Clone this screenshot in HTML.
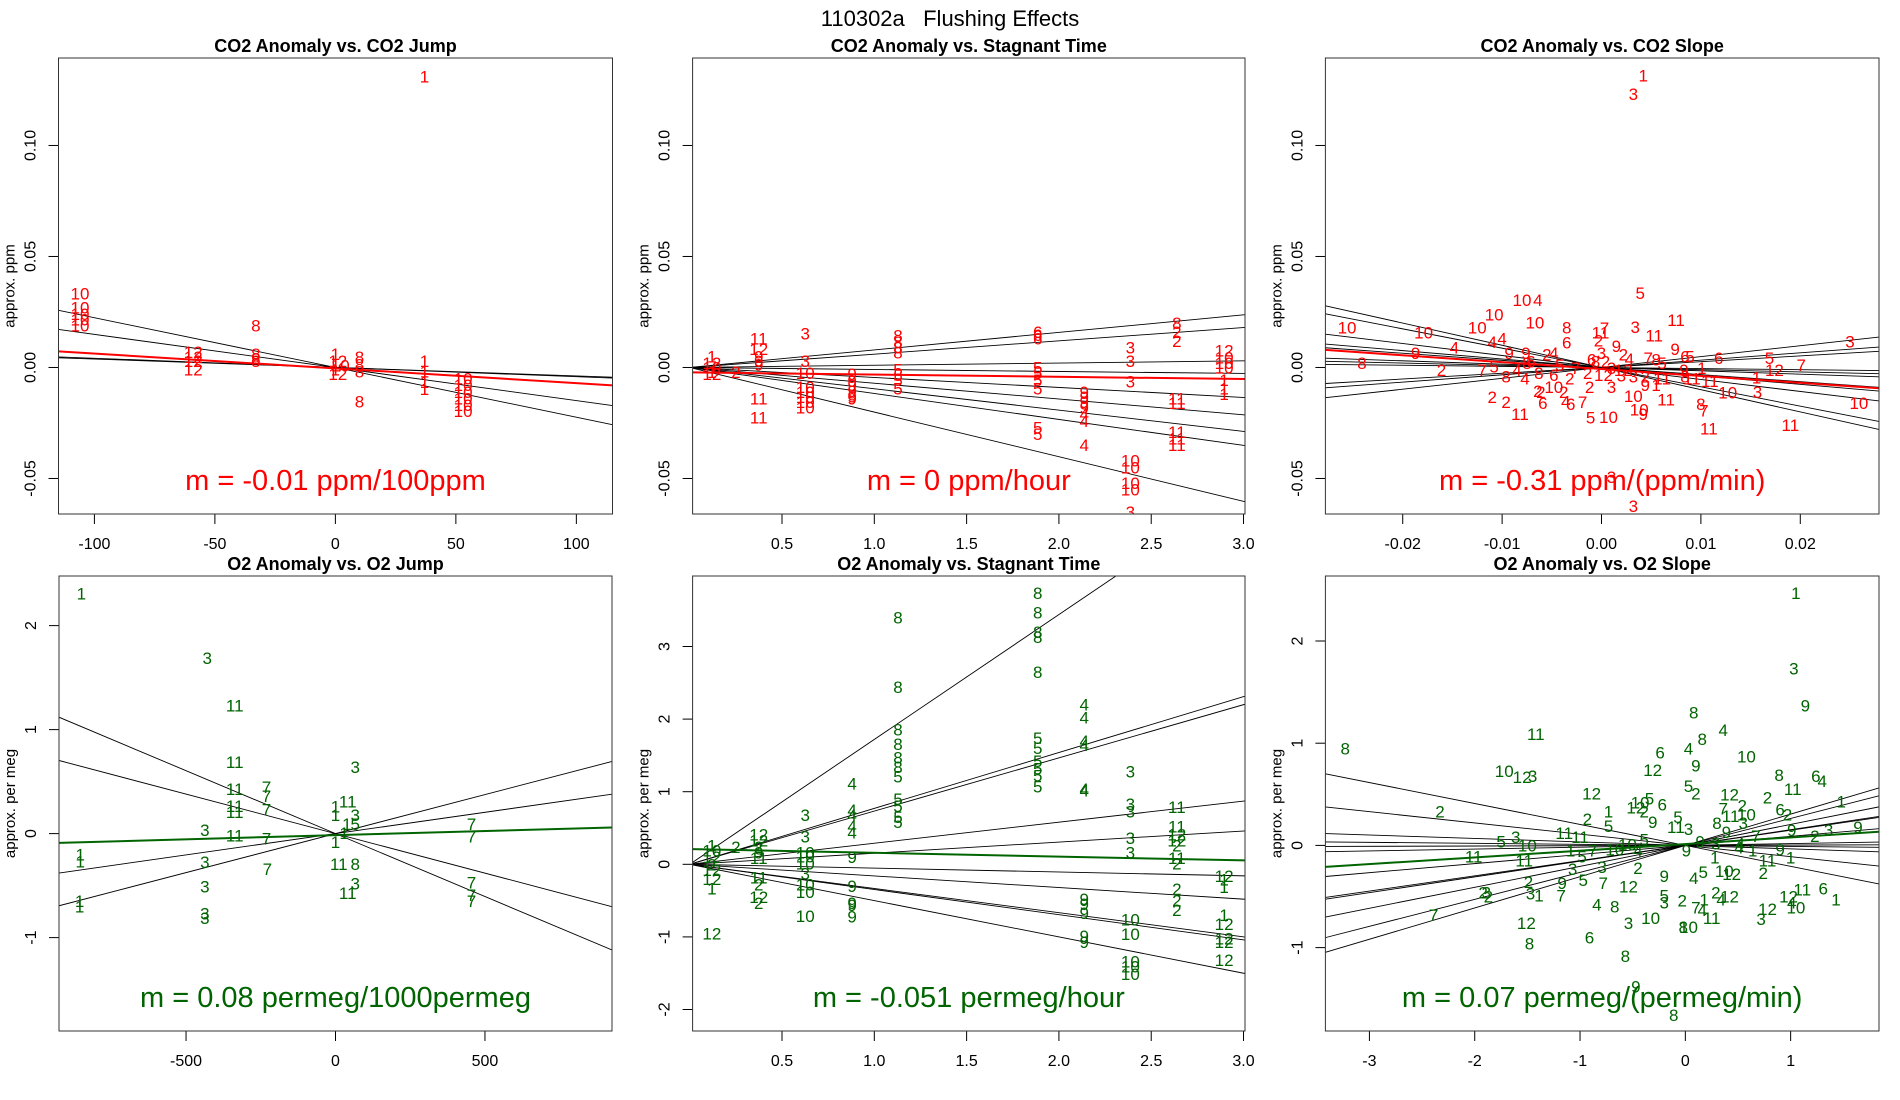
<!DOCTYPE html>
<html><head><meta charset="utf-8"><style>
html,body{margin:0;padding:0;background:#fff;}
svg{display:block;font-family:"Liberation Sans",sans-serif;}
</style></head><body>
<svg id="fig" width="1900" height="1100" viewBox="0 0 1900 1100" xmlns="http://www.w3.org/2000/svg">
<text x="950" y="26" text-anchor="middle" font-size="22">110302a&#160;&#160;&#160;Flushing Effects</text>
</svg>
<script>
// ---------- Panel 1: CO2 Anomaly vs CO2 Jump ----------
const p1Labels = ["1","10","10","10","10","10","12","12","12","12","8","8","8","8","1","12","10","1","12","8","8","8","8","1","1","1","1","10","10","10","10","10","10"];
const p1X = [37,-106,-106,-106,-106,-106,-59,-59,-59,-59,-33,-33,-33,-33,0,1,2,0,1,10,10,10,10,37,37,37,37,53,53,53,53,53,53];
const p1Y = [0.131,0.0333,0.027,0.024,0.0215,0.019,0.007,0.0047,0.003,-0.001,0.019,0.006,0.004,0.003,0.006,0.003,0.001,-0.001,-0.003,0.0047,0.0014,-0.0018,-0.0154,0.003,-0.0018,-0.0066,-0.0098,-0.005,-0.008,-0.011,-0.014,-0.017,-0.0195];
const p1Slopes = [-0.000224,-0.000149,-0.0000415,-0.000038];
const p1Fit = [-0.0004,-0.0000665];

// ---------- Panel 2: CO2 Anomaly vs Stagnant Time ----------
const p2Labels = ["1","12","10","1","12","2","11","12","9","9","9","11","11","3","3","10","10","10","10","10","10","9","9","9","9","9","9","8","8","8","8","5","5","5","5","6","6","6","5","5","5","5","5","5","9","9","9","9","4","4","4","3","3","3","10","10","10","10","3","8","2","2","11","11","11","11","11","12","10","10","10","1","1","1"];
const p2X = [0.12,0.12,0.12,0.12,0.12,0.25,0.374,0.374,0.374,0.374,0.374,0.374,0.374,0.626,0.626,0.626,0.626,0.626,0.626,0.626,0.626,0.88,0.88,0.88,0.88,0.88,0.88,1.128,1.128,1.128,1.128,1.128,1.128,1.128,1.128,1.885,1.885,1.885,1.885,1.885,1.885,1.885,1.885,1.885,2.137,2.137,2.137,2.137,2.137,2.137,2.137,2.387,2.387,2.387,2.387,2.387,2.387,2.387,2.387,2.639,2.639,2.639,2.639,2.639,2.639,2.639,2.639,2.895,2.895,2.895,2.895,2.895,2.895,2.895];
const p2Y = [0.005,0.002,0,-0.002,-0.003,-0.002,0.013,0.0084,0.005,0.003,0.0014,-0.014,-0.0226,0.0153,0.003,-0.0025,-0.0087,-0.011,-0.0133,-0.0156,-0.018,-0.003,-0.006,-0.008,-0.0105,-0.013,-0.014,0.0145,0.0115,0.009,0.0068,-0.001,-0.0033,-0.0056,-0.0094,0.016,0.0146,0.013,0,-0.0025,-0.0056,-0.0094,-0.027,-0.03,-0.011,-0.0133,-0.0156,-0.018,-0.021,-0.024,-0.035,0.009,0.003,-0.0063,-0.042,-0.045,-0.052,-0.055,-0.065,0.02,0.016,0.012,-0.014,-0.016,-0.029,-0.032,-0.035,0.0076,0.0045,0.002,0,-0.0056,-0.0094,-0.012];
const p2Slopes = [0.0079,0.006,0.001,-0.0009,-0.0045,-0.0071,-0.0096,-0.0117,-0.0201];
const p2Fit = [-0.0022,-0.001];

// ---------- Panel 3: CO2 Anomaly vs CO2 Slope ----------
const p3Labels = ["1","3","5","10","4","10","10","10","10","8","11","3","7","11","11","10","4","4","6","2","9","4","9","9","9","6","5","3","6","5","7","12","8","2","7","5","8","4","9","2","4","3","2","4","7","8","5","1","1","3","11","10","10","11","11","8","7","11","10","10","9","5","10","7","6","4","2","10","2","2","6","2","2","11","2","3","9","1","3","3","8","6","2","2","12","3","3","2","11","8","11","4","8","6","5","7","6","8","2","3","12","9"];
const p3X = [0.0042,0.0032,0.0039,-0.0080,-0.0064,-0.0108,-0.0067,-0.0256,-0.0125,-0.0035,0.0075,0.0034,0.0003,-0.0001,0.0053,-0.0179,-0.0100,-0.0110,-0.0035,-0.0003,-0.0187,-0.0148,-0.0093,0.0015,0.0074,0.0084,0.0089,0.0250,0.0118,0.0169,0.0201,0.0174,-0.0241,-0.0161,-0.0120,-0.0108,-0.0096,-0.0077,-0.0076,-0.0055,-0.0048,0,0.0022,0.0028,0.0047,0.0055,0.0061,0.0101,0.0156,0.0157,0.0109,0.0127,0.0259,0.0190,0.0108,0.0100,0.0103,0.0065,0.0032,0.0038,0.0042,-0.0011,0.0007,-0.0019,-0.0031,-0.0036,-0.0038,-0.0048,-0.0061,-0.0064,-0.0059,-0.0110,-0.0096,-0.0082,-0.0012,0.0010,0.0044,0.0055,0.0010,0.0032,-0.0063,-0.0048,-0.0032,-0.0014,0.0002,0.0020,0.0032,0.0044,0.0061,0.0084,0.0091,-0.0085,-0.0075,-0.0071,-0.0042,-0.0026,-0.0010,-0.0006,0.0004,0.0010,0.0022,0.0083];
const p3Y = [0.1315,0.1232,0.0336,0.0303,0.0303,0.0239,0.0202,0.0181,0.0181,0.0180,0.0214,0.0183,0.0177,0.0157,0.0145,0.0157,0.0131,0.0115,0.0112,0.0122,0.0066,0.0089,0.0066,0.0096,0.0084,0.0050,0.0050,0.0116,0.0043,0.0043,0.0012,-0.0011,0.0020,-0.0011,-0.0011,0.0005,-0.0041,-0.0049,0.0066,0.0058,0.0066,0.0066,0.0058,0.0038,0.0043,0.0035,0.0020,-0.0003,-0.0046,-0.0110,-0.0061,-0.0113,-0.0159,-0.0260,-0.0274,-0.0164,-0.0194,-0.0144,-0.0128,-0.0190,-0.0209,-0.0225,-0.0222,-0.0156,-0.0164,-0.0153,-0.0110,-0.0087,-0.0110,-0.0107,-0.0159,-0.0133,-0.0156,-0.0209,-0.0087,-0.0087,-0.0080,-0.0080,-0.0494,-0.0624,-0.0026,-0.0034,-0.0049,-0.0026,-0.0034,-0.0037,-0.0041,-0.0041,-0.0049,-0.0041,-0.0049,-0.0011,0.0020,0.0028,0.0012,-0.0003,0.0035,0.0028,0.0028,-0.0003,-0.0011,-0.0011];
const p3Slopes = [-1.0,-0.87,-0.54,-0.38,-0.32,-0.15,-0.1,-0.05,0.26,0.33,0.49];
const p3Fit = [-0.0007,-0.31];

// ---------- Panel 4: O2 Anomaly vs O2 Jump ----------
const p4Labels = ["1","3","11","11","11","11","11","11","3","3","3","3","3","7","7","7","7","7","1","1","1","1","3","11","1","1","3","1","5","1","1","11","8","3","11","7","7","7","7","7"];
const p4X = [-850,-429,-337,-337,-337,-337,-337,-337,-437,-437,-437,-437,-437,-231,-231,-231,-231,-228,-854,-854,-856,-856,66,41,0,0,66,38,66,29,0,11,66,66,41,455,455,455,455,455];
const p4Y = [2.31,1.69,1.23,0.69,0.43,0.265,0.21,-0.02,0.034,-0.275,-0.51,-0.77,-0.81,0.45,0.36,0.23,-0.045,-0.34,-0.2,-0.27,-0.65,-0.7,0.64,0.31,0.26,0.18,0.18,0.09,0.09,0.007,-0.08,-0.29,-0.29,-0.48,-0.57,0.09,-0.03,-0.47,-0.59,-0.65];
const p4Slopes = [-0.00121,-0.00076,0.00041,0.00075];
const p4Fit = [-0.015,0.00008];

// ---------- Panel 5: O2 Anomaly vs Stagnant Time ----------
const p5Labels = ["1","10","12","2","12","12","1","12","2","12","12","2","9","11","11","2","12","2","3","3","10","10","10","3","10","10","10","4","4","4","4","4","9","9","9","9","9","8","8","8","8","8","8","5","5","5","5","5","8","8","8","8","8","5","5","5","5","5","5","4","4","4","4","4","4","9","9","9","9","9","3","3","3","3","3","10","10","10","10","10","11","11","12","12","2","11","2","2","2","2","12","1","1","1","12","12","12","12"];
const p5X = [0.12,0.12,0.12,0.12,0.12,0.12,0.12,0.12,0.25,0.374,0.374,0.374,0.374,0.374,0.374,0.374,0.374,0.374,0.626,0.626,0.626,0.626,0.626,0.626,0.626,0.626,0.626,0.88,0.88,0.88,0.88,0.88,0.88,0.88,0.88,0.88,0.88,1.128,1.128,1.128,1.128,1.128,1.128,1.128,1.128,1.128,1.128,1.128,1.885,1.885,1.885,1.885,1.885,1.885,1.885,1.885,1.885,1.885,1.885,2.137,2.137,2.137,2.137,2.137,2.137,2.137,2.137,2.137,2.137,2.137,2.387,2.387,2.387,2.387,2.387,2.387,2.387,2.387,2.387,2.387,2.639,2.639,2.639,2.639,2.639,2.639,2.639,2.639,2.639,2.639,2.895,2.895,2.895,2.895,2.895,2.895,2.895,2.895];
const p5Y = [0.26,0.19,0.1,0,-0.08,-0.2,-0.33,-0.95,0.24,0.41,0.33,0.24,0.16,0.09,-0.18,-0.28,-0.45,-0.53,0.68,0.38,0.16,0.11,0.01,-0.13,-0.28,-0.38,-0.71,1.11,0.75,0.68,0.53,0.44,0.1,-0.3,-0.53,-0.56,-0.72,3.4,2.44,1.86,1.66,1.47,1.34,1.21,0.9,0.8,0.65,0.58,3.74,3.47,3.2,3.13,2.65,1.74,1.6,1.42,1.32,1.22,1.07,2.2,2.02,1.7,1.64,1.04,1.02,-0.48,-0.55,-0.67,-0.99,-1.07,1.28,0.83,0.73,0.36,0.16,-0.76,-0.96,-1.34,-1.41,-1.51,0.79,0.52,0.41,0.33,0.26,0.09,0.01,-0.34,-0.5,-0.63,-0.16,-0.21,-0.31,-0.7,-0.82,-1.02,-1.07,-1.32];
const p5Slopes = [1.72,0.77,0.733,0.29,0.153,-0.053,-0.16,-0.333,-0.347,-0.5];
const p5Fit = [0.21,-0.052];

// ---------- Panel 6: O2 Anomaly vs O2 Slope ----------
const p6Labels = ["1","3","9","8","11","10","12","3","8","4","8","6","4","10","9","12","8","6","4","11","5","2","12","12","2","10","5","6","1","2","1","12","2","7","2","10","6","2","9","5","2","5","11","8","3","11","3","9","9","2","3","9","5","3","10","11","11","10","5","9","3","4","7","1","11","11","1","5","7","10","4","9","1","4","9","1","11","3","3","2","2","9","5","4","10","12","2","9","5","7","12","2","3","2","3","1","7","5","3","2","1","2","4","12","11","6","1","12","4","10","12","7","4","7","4","8","10","11","3","3","8","10","12","8","6","8","9","8"];
const p6X = [1.05,1.03,1.14,-3.23,-1.42,-1.72,-1.55,-1.45,0.08,0.36,0.16,-0.24,0.03,0.58,0.10,-0.31,0.89,1.24,1.30,1.02,0.03,0.10,-0.89,0.42,0.78,-0.43,-0.34,-0.22,1.48,-2.33,-0.73,-0.47,-0.39,0.36,0.54,0.58,0.90,0.97,-0.31,-0.07,-0.93,-0.73,0.43,0.30,0.55,-0.09,0.03,0.39,1.01,1.23,1.36,1.64,-1.75,-1.61,-1.50,-1.15,-1.00,-0.55,-0.39,0.14,0.29,0.52,0.67,0.64,-2.01,-1.53,-1.09,-0.98,-0.88,-0.67,-0.45,0.01,0.28,0.51,0.90,1.00,0.78,-1.07,-0.79,-0.45,0.74,-0.20,0.17,0.08,0.37,0.44,-1.49,-1.17,-0.97,-0.78,-0.54,-1.92,-1.89,-1.87,-1.47,-1.39,-1.18,-0.20,-0.20,-0.03,0.18,0.29,0.34,0.42,1.11,1.31,1.43,0.98,1.01,1.05,0.78,0.10,0.16,-2.39,-0.84,-0.67,-0.33,0.25,-0.54,0.72,-0.02,0.03,-1.51,-1.48,-0.91,-0.57,-0.47,-0.11];
const p6Y = [2.47,1.73,1.37,0.95,1.09,0.73,0.67,0.68,1.30,1.13,1.04,0.91,0.95,0.87,0.78,0.74,0.69,0.68,0.63,0.55,0.58,0.51,0.51,0.50,0.47,0.42,0.46,0.40,0.43,0.33,0.33,0.37,0.33,0.36,0.39,0.30,0.35,0.30,0.23,0.28,0.26,0.19,0.29,0.22,0.22,0.18,0.16,0.13,0.15,0.09,0.15,0.18,0.04,0.08,0,0.12,0.08,0.01,0.06,0.04,0.02,0.02,0.09,-0.05,-0.11,-0.15,-0.05,-0.11,-0.05,-0.04,-0.05,-0.05,-0.12,-0.02,-0.04,-0.12,-0.15,-0.23,-0.21,-0.22,-0.27,-0.30,-0.26,-0.32,-0.25,-0.28,-0.36,-0.37,-0.34,-0.37,-0.40,-0.46,-0.46,-0.50,-0.47,-0.49,-0.49,-0.49,-0.56,-0.54,-0.53,-0.46,-0.53,-0.50,-0.43,-0.42,-0.53,-0.50,-0.56,-0.61,-0.62,-0.61,-0.63,-0.68,-0.58,-0.60,-0.71,-0.71,-0.76,-0.72,-0.80,-0.80,-0.76,-0.96,-0.90,-1.08,-1.38,-1.66];
const p6Slopes = [-0.205,-0.11,-0.034,-0.01,0.003,0.018,0.089,0.149,0.154,0.205,0.264,0.306];
const p6Fit = [0.013,0.0653];

// ---------- shared tick labels ----------
const topYTicks = [-0.05,0,0.05,0.10];
const topYTickText = ["-0.05","0.00","0.05","0.10"];
const p1XTicks = [-100,-50,0,50,100];
const timeXTicks = [0.5,1.0,1.5,2.0,2.5,3.0];
const timeXTickText = ["0.5","1.0","1.5","2.0","2.5","3.0"];
const p3XTicks = [-0.02,-0.01,0,0.01,0.02];
const p3XTickText = ["-0.02","-0.01","0.00","0.01","0.02"];
const p4XTicks = [-500,0,500];
const p4YTicks = [-1,0,1,2];
const p5YTicks = [-2,-1,0,1,2,3];
const p6XTicks = [-3,-2,-1,0,1];
const p6YTicks = [-1,0,1,2];

const NS = "http://www.w3.org/2000/svg";
const svg = document.getElementById("fig");
function mk(tag, attrs, parent){
  const e = document.createElementNS(NS, tag);
  for (const k in attrs) e.setAttribute(k, attrs[k]);
  (parent||svg).appendChild(e);
  return e;
}

function panel(c){
  const g = mk("g", {});
  
  
  const sx = v => c.l + (v - c.xlim[0]) / (c.xlim[1] - c.xlim[0]) * (c.r - c.l);
  const sy = v => c.b - (v - c.ylim[0]) / (c.ylim[1] - c.ylim[0]) * (c.b - c.t);
  const cid = "clip-" + c.name;
  const cp = mk("clipPath", {id: cid}, g);
  mk("rect", {x: c.l, y: c.t, width: c.r - c.l, height: c.b - c.t}, cp);

  const title = mk("text", {x: (c.l + c.r) / 2, y: c.t - 6, "text-anchor": "middle", "font-size": 18, "font-weight": "bold"}, g);
  title.textContent = c.title;
  
  

  const yl = mk("text", {x: 0, y: 0, "text-anchor": "middle", "font-size": 15, transform: "translate(" + (c.l - 44) + "," + ((c.t + c.b) / 2) + ") rotate(-90)"}, g);
  yl.textContent = c.ylab;
  
  

  c.xticks.forEach((v, i) => {
    const x = sx(v);
    const tk = mk("line", {x1: x, x2: x, y1: c.b, y2: c.b + 10, stroke: "#000", "stroke-width": 1}, g);
    
    
    const t = mk("text", {x: x, y: c.b + 35, "text-anchor": "middle", "font-size": 16}, g);
    t.textContent = c.xtext ? c.xtext[i] : String(v);
    
    
  });
  c.yticks.forEach((v, i) => {
    const y = sy(v);
    const tk = mk("line", {x1: c.l - 10, x2: c.l, y1: y, y2: y, stroke: "#000", "stroke-width": 1}, g);
    
    
    const t = mk("text", {x: 0, y: 0, "text-anchor": "middle", "font-size": 16, transform: "translate(" + (c.l - 23) + "," + y + ") rotate(-90)"}, g);
    t.textContent = c.ytext ? c.ytext[i] : String(v);
    
    
  });

  const plot = mk("g", {"clip-path": "url(#" + cid + ")"}, g);
  c.slopes.forEach(s => {
    const ln = mk("line", {x1: sx(c.xlim[0]), y1: sy(s * c.xlim[0]), x2: sx(c.xlim[1]), y2: sy(s * c.xlim[1]), stroke: "#000", "stroke-width": 0.9}, plot);
    
    
  });
  c.labels.forEach((lab, i) => {
    const t = mk("text", {x: sx(c.xs[i]), y: sy(c.ys[i]) + 6, "text-anchor": "middle", "font-size": 17, fill: c.color}, plot);
    t.textContent = lab;
    
    
  });
  const f = c.fit;
  const fl = mk("line", {x1: sx(c.xlim[0]), y1: sy(f[0] + f[1] * c.xlim[0]), x2: sx(c.xlim[1]), y2: sy(f[0] + f[1] * c.xlim[1]), stroke: c.color, "stroke-width": 2}, plot);
  
  

  const m = mk("text", {x: (c.l + c.r) / 2, y: c.b - 24, "text-anchor": "middle", "font-size": 29, fill: c.color}, g);
  m.textContent = c.mtext;
  
  

  const box = mk("rect", {x: c.l, y: c.t, width: c.r - c.l, height: c.b - c.t, fill: "none", stroke: "#333", "stroke-width": 1}, g);
  
  
}

const RED = "#ff0000", GRN = "#006400";
const topY = [-0.066, 0.1394];
panel({name:"panel-co2-jump", l:58.5, r:612.5, t:58, b:514, xlim:[-114.9,115.0], ylim:topY,
  title:"CO2 Anomaly vs. CO2 Jump", ylab:"approx. ppm", xticks:p1XTicks, yticks:topYTicks, ytext:topYTickText,
  labels:p1Labels, xs:p1X, ys:p1Y, slopes:p1Slopes, fit:p1Fit, color:RED, mtext:"m = -0.01 ppm/100ppm"});
panel({name:"panel-co2-stagnant", l:692.6, r:1245, t:58, b:514, xlim:[0.0157,3.008], ylim:topY,
  title:"CO2 Anomaly vs. Stagnant Time", ylab:"approx. ppm", xticks:timeXTicks, xtext:timeXTickText, yticks:topYTicks, ytext:topYTickText,
  labels:p2Labels, xs:p2X, ys:p2Y, slopes:p2Slopes, fit:p2Fit, color:RED, mtext:"m = 0 ppm/hour"});
panel({name:"panel-co2-slope", l:1325.4, r:1879, t:58, b:514, xlim:[-0.02778,0.02792], ylim:topY,
  title:"CO2 Anomaly vs. CO2 Slope", ylab:"approx. ppm", xticks:p3XTicks, xtext:p3XTickText, yticks:topYTicks, ytext:topYTickText,
  labels:p3Labels, xs:p3X, ys:p3Y, slopes:p3Slopes, fit:p3Fit, color:RED, mtext:"m = -0.31 ppm/(ppm/min)"});
panel({name:"panel-o2-jump", l:59, r:612, t:576, b:1031, xlim:[-925,925], ylim:[-1.898,2.477],
  title:"O2 Anomaly vs. O2 Jump", ylab:"approx. per meg", xticks:p4XTicks, yticks:p4YTicks,
  labels:p4Labels, xs:p4X, ys:p4Y, slopes:p4Slopes, fit:p4Fit, color:GRN, mtext:"m = 0.08 permeg/1000permeg"});
panel({name:"panel-o2-stagnant", l:692.6, r:1245, t:576, b:1031, xlim:[0.0157,3.008], ylim:[-2.296,3.971],
  title:"O2 Anomaly vs. Stagnant Time", ylab:"approx. per meg", xticks:timeXTicks, xtext:timeXTickText, yticks:p5YTicks,
  labels:p5Labels, xs:p5X, ys:p5Y, slopes:p5Slopes, fit:p5Fit, color:GRN, mtext:"m = -0.051 permeg/hour"});
panel({name:"panel-o2-slope", l:1325.4, r:1879, t:576, b:1031, xlim:[-3.418,1.839], ylim:[-1.816,2.636],
  title:"O2 Anomaly vs. O2 Slope", ylab:"approx. per meg", xticks:p6XTicks, yticks:p6YTicks,
  labels:p6Labels, xs:p6X, ys:p6Y, slopes:p6Slopes, fit:p6Fit, color:GRN, mtext:"m = 0.07 permeg/(permeg/min)"});
</script>
</body></html>
